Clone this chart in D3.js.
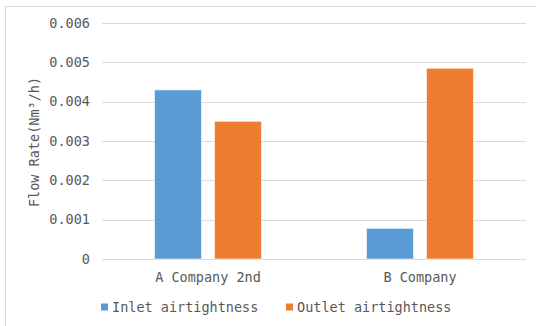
<!DOCTYPE html>
<html>
<head>
<meta charset="utf-8">
<script src="https://cdn.jsdelivr.net/npm/d3@7"></script>
<style>
  html, body { margin: 0; padding: 0; background: #fff; }
  svg { display: block; }
  text { font-family: "DejaVu Sans Mono", "Liberation Mono", monospace; fill: #595959; }
</style>
</head>
<body>
<svg id="chart" width="536" height="326"></svg>
<script>
// Flow rate measured per company
const categories = ["A Company 2nd", "B Company"];
const seriesNames = ["Inlet airtightness", "Outlet airtightness"];
const inletValues = [0.0043, 0.00078];
const outletValues = [0.0035, 0.00485];
const yTicks = [0, 0.001, 0.002, 0.003, 0.004, 0.005, 0.006];
const yTickLabels = ["0", "0.001", "0.002", "0.003", "0.004", "0.005", "0.006"];
const yTitle = "Flow Rate(Nm³/h)";
const colors = ["#5B9BD5", "#ED7D31"];

const svg = d3.select("#chart");
const W = 536, H = 326;
const fs = 13.5;

// chart frame
svg.append("line").attr("x1", 5.5).attr("x2", 5.5).attr("y1", 6).attr("y2", H)
  .attr("stroke", "#d9d9d9");
svg.append("line").attr("x1", 5).attr("x2", W).attr("y1", 6.5).attr("y2", 6.5)
  .attr("stroke", "#d9d9d9");

const plot = { left: 102, right: 526, top: 23, bottom: 259 };

const x0 = d3.scaleBand().domain(categories).range([plot.left, plot.right]).paddingInner(0).paddingOuter(0);
const y = d3.scaleLinear().domain([0, 0.006]).range([plot.bottom, plot.top]);

// gridlines
svg.append("g").selectAll("line").data(yTicks).join("line")
  .attr("x1", plot.left).attr("x2", plot.right)
  .attr("y1", d => Math.round(y(d)) + 0.5).attr("y2", d => Math.round(y(d)) + 0.5)
  .attr("stroke", "#d9d9d9").attr("stroke-width", 1);

// y tick labels
svg.append("g").selectAll("text").data(yTicks).join("text")
  .attr("x", 90).attr("y", d => y(d))
  .attr("dy", "0.35em")
  .attr("text-anchor", "end")
  .attr("font-size", fs)
  .text((d, i) => yTickLabels[i]);

// y axis title
svg.append("text")
  .attr("transform", `translate(39,${(plot.top + plot.bottom) / 2 + 1}) rotate(-90)`)
  .attr("text-anchor", "middle")
  .attr("font-size", fs)
  .text(yTitle);

// bars
const groupWidth = 108;
const x1 = d3.scaleBand().domain(seriesNames).range([0, groupWidth]).paddingInner(0.2).paddingOuter(0);
const rows = categories.map((c, i) => ({ cat: c, vals: [inletValues[i], outletValues[i]] }));

const groups = svg.append("g").selectAll("g").data(rows).join("g")
  .attr("transform", d => `translate(${x0(d.cat) + (x0.bandwidth() - groupWidth) / 2},0)`);

groups.selectAll("rect").data(d => d.vals.map((v, i) => ({ v, s: seriesNames[i], i })))
  .join("rect")
  .attr("x", d => x1(d.s) + 0.5)
  .attr("width", x1.bandwidth() - 1)
  .attr("y", d => y(d.v))
  .attr("height", d => y(0) - y(d.v))
  .attr("fill", d => colors[d.i])
  .attr("stroke", "#fff").attr("stroke-opacity", 0.6).attr("stroke-width", 1);

// category labels
svg.append("g").selectAll("text").data(categories).join("text")
  .attr("x", d => x0(d) + x0.bandwidth() / 2)
  .attr("y", 277)
  .attr("dy", "0.35em")
  .attr("text-anchor", "middle")
  .attr("font-size", fs)
  .text(d => d);

// legend
const legendX = [101, 286];
const legend = svg.append("g").selectAll("g").data(seriesNames).join("g")
  .attr("transform", (d, i) => `translate(${legendX[i]},307)`);
legend.append("rect").attr("x", 0).attr("y", -3.5).attr("width", 7).attr("height", 7)
  .attr("fill", (d, i) => colors[i]);
legend.append("text").attr("x", 11).attr("y", 0).attr("dy", "0.35em")
  .attr("font-size", fs)
  .text(d => d);
</script>
</body>
</html>
